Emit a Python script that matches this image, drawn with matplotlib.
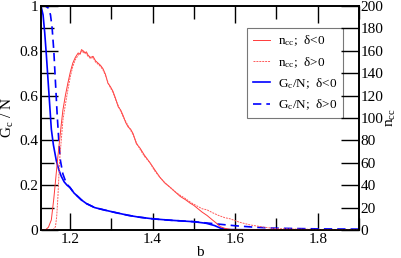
import matplotlib
matplotlib.use("Agg")
import matplotlib.pyplot as plt
from matplotlib.ticker import MultipleLocator

plt.rcParams['font.family'] = ['Liberation Serif', 'DejaVu Serif']
plt.rcParams['mathtext.fontset'] = 'custom'
plt.rcParams['mathtext.rm'] = 'Liberation Serif'
plt.rcParams['mathtext.it'] = 'Liberation Serif:italic'

# G_c/N, delta<0
b_gneg = [1.13, 1.135, 1.139, 1.143, 1.147, 1.151, 1.155, 1.16, 1.167, 1.173, 1.179, 1.186, 1.193, 1.2,
          1.21, 1.22, 1.228, 1.24, 1.26, 1.284, 1.31, 1.34, 1.365, 1.4, 1.44, 1.5, 1.53, 1.55, 1.565, 1.58, 1.7, 1.9]
g_neg = [1.0, 0.96, 0.88, 0.78, 0.67, 0.56, 0.45, 0.38, 0.31, 0.27, 0.24, 0.215, 0.2, 0.19,
         0.165, 0.148, 0.134, 0.118, 0.1, 0.089, 0.078, 0.066, 0.058, 0.05, 0.044, 0.037, 0.03, 0.02, 0.008, 0.002, 0.0, 0.0]

# G_c/N, delta>0
b_gpos = [1.13, 1.14, 1.148, 1.153, 1.157, 1.161, 1.165, 1.169, 1.173, 1.177, 1.183, 1.19, 1.195, 1.2,
          1.21, 1.22, 1.228, 1.24, 1.26, 1.284, 1.31, 1.34, 1.365, 1.4, 1.44, 1.5, 1.55, 1.6, 1.65, 1.7, 1.8, 1.9]
g_pos = [1.0, 1.0, 0.99, 0.96, 0.9, 0.8, 0.66, 0.52, 0.4, 0.31, 0.25, 0.215, 0.2, 0.19,
         0.165, 0.148, 0.134, 0.118, 0.1, 0.089, 0.078, 0.066, 0.058, 0.05, 0.044, 0.037, 0.028, 0.019, 0.012, 0.008, 0.005, 0.004]

# n_cc, delta<0
b_nneg = [1.13, 1.142, 1.148, 1.155, 1.161, 1.167, 1.171, 1.175, 1.179, 1.183, 1.189, 1.195, 1.201, 1.207,
          1.213, 1.22, 1.225, 1.228, 1.232, 1.236, 1.24, 1.244, 1.25, 1.256, 1.262, 1.268, 1.274, 1.28,
          1.286, 1.292, 1.298, 1.304, 1.31, 1.317, 1.323, 1.329, 1.335, 1.341, 1.347, 1.353, 1.361,
          1.37, 1.38, 1.394, 1.405, 1.418, 1.43, 1.443, 1.455, 1.467, 1.48, 1.491, 1.5, 1.51, 1.52,
          1.532, 1.545, 1.555, 1.564, 1.575, 1.59, 1.7, 1.9]
n_neg = [0.0, 0.5, 2.5, 9, 28, 51, 66, 80, 94, 107, 120, 131, 141, 149,
         154, 158, 157, 161, 160, 158, 159, 156, 154, 155, 151, 149, 147, 144,
         139, 131, 128, 124, 118, 110, 107, 102, 96, 92, 90, 86, 77,
         73, 67, 60, 54, 47, 42, 38, 34, 30, 27, 24, 22, 19, 16,
         13, 9, 6, 3, 1.5, 0.5, 0.2, 0.0]

# n_cc, delta>0
b_npos = [1.13, 1.16, 1.165, 1.168, 1.171, 1.175, 1.179, 1.183, 1.189, 1.195, 1.201, 1.207,
          1.213, 1.22, 1.225, 1.228, 1.232, 1.236, 1.24, 1.244, 1.25, 1.256, 1.262, 1.268, 1.274, 1.28,
          1.286, 1.292, 1.298, 1.304, 1.31, 1.317, 1.323, 1.329, 1.335, 1.341, 1.347, 1.353, 1.361,
          1.37, 1.38, 1.394, 1.405, 1.418, 1.43, 1.443, 1.455, 1.467, 1.48, 1.491, 1.5, 1.51, 1.52,
          1.532, 1.545, 1.56, 1.575, 1.588, 1.61, 1.637, 1.67, 1.7, 1.75, 1.8, 1.9]
n_pos = [0.0, 0.5, 3, 12, 30, 62, 80, 98, 112, 125, 137, 146,
         152, 156, 158, 160, 158, 159, 157, 155, 153, 154, 150, 148, 146, 143,
         138, 132, 127, 123, 117, 111, 106, 101, 97, 93, 89, 85, 78,
         72, 66, 60, 53, 47, 42, 38, 34, 31, 28, 25, 23, 21, 19,
         18, 15.5, 13, 11, 10, 7, 4.5, 2.5, 1.2, 0.8, 0.5, 0.3]

fig = plt.figure(figsize=(4.02, 2.58), dpi=100)
ax = fig.add_axes([0.102, 0.1085, 0.791, 0.8685])
ax2 = ax.twinx()

l3, = ax.plot(b_gneg, g_neg, color='#0000ff', lw=1.2, label='G$_{\\rm c}$/N;  δ<0')
l4, = ax.plot(b_gpos, g_pos, color='#0000ff', lw=1.2, ls=(0, (5, 3)), label='G$_{\\rm c}$/N;  δ>0')
l1, = ax2.plot(b_nneg, n_neg, color='#ff3a3a', lw=0.7, label='n$_{\\rm cc}$;  δ<0')
l2, = ax2.plot(b_npos, n_pos, color='#ff5a5a', lw=0.7, ls=(0, (2, 1)), label='n$_{\\rm cc}$;  δ>0')

ax.set_xlim(1.13, 1.9)
ax.set_ylim(0, 1)
ax2.set_ylim(0, 200)

ax.xaxis.set_minor_locator(MultipleLocator(0.1))
ax.yaxis.set_minor_locator(MultipleLocator(0.1))
ax2.yaxis.set_major_locator(MultipleLocator(20))

ax.set_xticks([1.2, 1.4, 1.6, 1.8])
ax.set_xticklabels(['1.2', '1.4', '1.6', '1.8'])
ax.set_yticks([0, 0.2, 0.4, 0.6, 0.8, 1.0])
ax.set_yticklabels(['0', '0.2', '0.4', '0.6', '0.8', '1'])

ax.tick_params(axis='both', which='major', direction='in', length=12, width=1.0, labelsize=11, pad=2)
ax.tick_params(axis='both', which='minor', direction='in', length=9, width=1.0)
ax.tick_params(axis='x', which='both', top=True)
ax.tick_params(axis='y', which='both', right=False)
ax2.tick_params(axis='y', which='major', direction='in', length=13, width=1.0, labelsize=11, pad=1)

for a in (ax, ax2):
    for s in a.spines.values():
        s.set_linewidth(1.2)

ax.set_xlabel('b', fontsize=11, labelpad=0)
ax.set_ylabel('G$_{\\rm c}$ / N', fontsize=11, labelpad=2)
ax2.set_ylabel('n$_{\\rm cc}$', fontsize=11, labelpad=1)

leg = ax.legend(handles=[l1, l2, l3, l4], loc='upper left', bbox_to_anchor=(0.648, 0.902),
                fontsize=9.5, frameon=True, fancybox=False, edgecolor='#555555',
                handlelength=1.3, handletextpad=0.6, borderpad=0.45, labelspacing=0.5,
                borderaxespad=0)
leg.get_frame().set_linewidth(0.8)

fig.savefig('out.png', dpi=100)
